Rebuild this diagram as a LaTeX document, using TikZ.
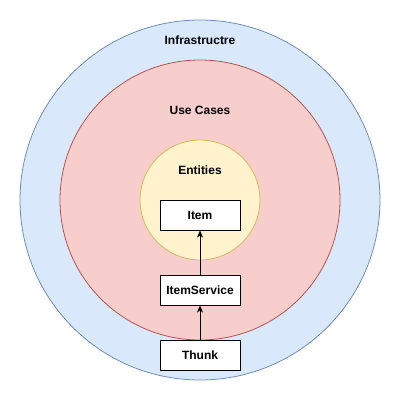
\documentclass[tikz,border=0pt]{standalone}
\usepackage{fontspec}
\setmainfont{Liberation Sans}
\usetikzlibrary{arrows.meta}
\definecolor{bluefill}{HTML}{DAE8FC}
\definecolor{bluestroke}{HTML}{6C8EBF}
\definecolor{redfill}{HTML}{F8CECC}
\definecolor{redstroke}{HTML}{B85450}
\definecolor{yelfill}{HTML}{FFF2CC}
\definecolor{yelstroke}{HTML}{D6B656}
\begin{document}
\begin{tikzpicture}[x=1pt,y=-1pt,
  ring/.style={circle,line width=0.8pt},
  lbl/.style={font=\fontsize{12}{14}\selectfont\bfseries,inner sep=0pt},
  box/.style={draw=black,fill=white,line width=1pt,minimum width=80pt,minimum height=30pt,inner sep=0pt,font=\fontsize{12}{14}\selectfont\bfseries},
  conn/.style={line width=1pt,-{Stealth[length=7pt,width=6pt,inset=2pt]}}]
\useasboundingbox (0,0) rectangle (401,401);
\fill[bluefill,draw=bluestroke,line width=0.8pt] (200,200) circle (180);
\fill[redfill,draw=redstroke,line width=0.8pt] (200,200) circle (140);
\fill[yelfill,draw=yelstroke,line width=0.8pt] (200,200) circle (60);
\node[lbl] (infra) at (200,40.5) {Infrastructre};
\node[lbl] (uc) at (200,110.5) {Use Cases};
\node[lbl] (ent) at (200,170.5) {Entities};
\node[box] (item) at (200,215) {Item};
\node[box] (svc) at (200,290) {ItemService};
\node[box] (thunk) at (200,355) {Thunk};
\draw[conn] (svc.north) -- (item.south);
\draw[conn] (thunk.north) -- (svc.south);
\end{tikzpicture}
\end{document}
